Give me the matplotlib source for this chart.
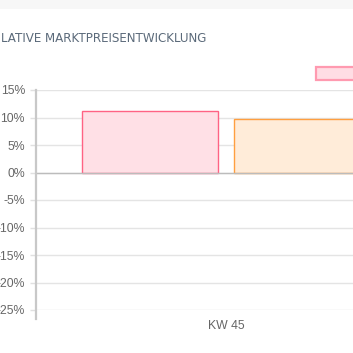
import matplotlib.pyplot as plt
from matplotlib.patches import Rectangle
from matplotlib.lines import Line2D

# data
categories = ["KW 45"]
series_a = [11.1]   # pink
series_b = [9.8]    # orange
y_ticks = [15, 10, 5, 0, -5, -10, -15, -20, -25]
title = "LATIVE MARKTPREISENTWICKLUNG"

W = H = 353
fig = plt.figure(figsize=(W / 100, H / 100), dpi=100)

def px(x, y):
    # pixel (top-left origin) -> figure fraction
    return x / W, 1 - y / H

# light gray header band
fig.patches.append(Rectangle((0, 1 - 9 / H), 1, 9 / H, transform=fig.transFigure,
                             facecolor="#f7f7f7", edgecolor="none", zorder=0))

# title
tx, ty = px(1, 38)
fig.text(tx, ty, title, ha="left", va="center", fontsize=8.6,
         color="#5b6a7a", fontfamily="DejaVu Sans")

# axes: category spans x=36..416 px, y: 15% at 90px, -25% at 310px
ax = fig.add_axes([36 / W, 43 / H, 380 / W, 220 / H])
ax.set_xlim(-0.5, 0.5)
ax.set_ylim(-25, 15)

pink_face, pink_edge = "#ffe0e6", "#ff6384"
orng_face, orng_edge = "#ffecd9", "#ff9f40"

x0 = 0
ax.bar(x0 - 0.2, series_a[0], width=0.36, color=pink_face, edgecolor=pink_edge,
       linewidth=1.0, zorder=2)
ax.bar(x0 + 0.2, series_b[0], width=0.36, color=orng_face, edgecolor=orng_edge,
       linewidth=1.0, zorder=2)

lab_font = "Liberation Sans"
ax.set_yticks(y_ticks)
ax.set_yticklabels([f"{t}%" for t in y_ticks], fontsize=8.8, color="#666666",
                   fontfamily=lab_font)
ax.tick_params(axis="y", length=4.3, width=1, color="#e0e0e0", pad=3.6)
ax.grid(axis="y", color="#e4e4e4", linewidth=1, zorder=1)
ax.axhline(0, color="#bcbcbc", linewidth=1, zorder=3)

ax.set_xticks([0])
ax.set_xticklabels(categories, fontsize=8.8, color="#666666", fontfamily=lab_font)
ax.tick_params(axis="x", length=0, pad=7.5)

for s in ax.spines.values():
    s.set_visible(False)

# y axis line, extended a bit below the last grid line
fig.add_artist(Line2D([36 / W, 36 / W], [1 - 90 / H, 1 - 319 / H],
                      transform=fig.transFigure, color="#c8c8c8", linewidth=1.6))

# legend box (label is off canvas)
lx, ly = px(316, 80)
fig.patches.append(Rectangle((lx, ly), 60 / W, 13 / H, transform=fig.transFigure,
                             facecolor="#ffdde4", edgecolor="#ff9ab0", linewidth=1.6))

fig.savefig("out.png", dpi=100)
